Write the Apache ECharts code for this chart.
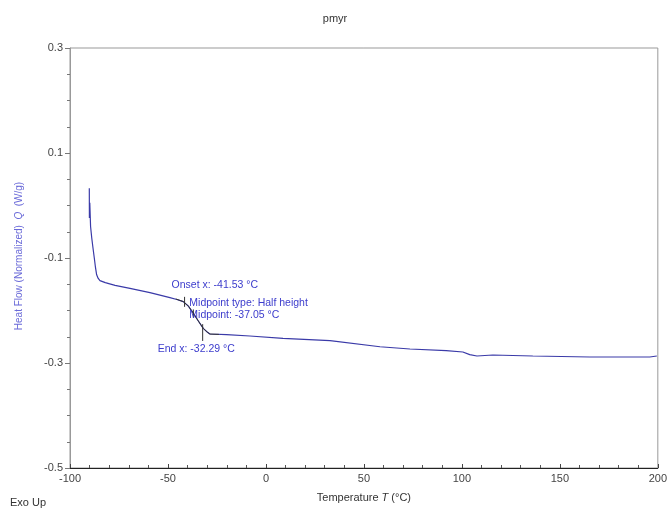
<!DOCTYPE html>
<html>
<head>
<meta charset="utf-8">
<script src="https://cdn.jsdelivr.net/npm/echarts@6/dist/echarts.min.js"></script>
<style>html,body{margin:0;padding:0;background:#fff}#c{width:670px;height:513px}</style>
</head>
<body>
<div id="c"></div>
<script>
// Temperature (°C)
var temps = [-90.15,-90.1,-89.9,-89.5,-88.9,-88.3,-87.6,-87.0,-86.4,-85.6,-84.7,-82,-77,-69.4,-59.2,-49.0,-45.5,-42.2,-39.5,-37.1,-34.5,-32.0,-30.0,-28.6,-20.1,-8.2,8.7,32.7,58.2,73.5,92,100.5,104,107.7,115.8,136.2,165.3,166,195.9,199.5];
// Heat flow (W/g)
var heat  = [0.033,-0.024,0.005,-0.040,-0.062,-0.080,-0.100,-0.118,-0.132,-0.139,-0.143,-0.147,-0.152,-0.1577,-0.166,-0.1756,-0.179,-0.183,-0.192,-0.205,-0.220,-0.234,-0.241,-0.2448,-0.246,-0.2486,-0.253,-0.2575,-0.269,-0.2733,-0.2765,-0.279,-0.284,-0.2867,-0.2848,-0.2867,-0.2886,-0.2886,-0.2886,-0.2867];
// analysis overlay (tangent region)
var analysisT = [-46,-42.2,-39.5,-37.1,-34.5,-32.0,-30.0,-28.6,-24];
var analysisQ = [-0.178,-0.183,-0.192,-0.205,-0.220,-0.234,-0.241,-0.2448,-0.2455];
var onset = -41.53, midpoint = -37.05, endX = -32.29;
var onsetQ = -0.183, midQ = -0.205, endQ = -0.234;
var yTicks = {min:-0.5, max:0.3, interval:0.2};
var xTicks = {min:-100, max:200, interval:50};

var main = temps.map(function(t,i){return [t, heat[i]];});
var analysis = analysisT.map(function(t,i){return [t, analysisQ[i]];});
var blue = '#3a3aa8';
var txt = '#3c3ccc';
var font = 'Liberation Sans, Arial, sans-serif';
function lbl(text, pos){
  return {formatter:text, position:pos, align:'left', verticalAlign:'middle'};
}

var chart = echarts.init(document.getElementById('c'));
chart.setOption({
  animation:false,
  title:{text:'pmyr', left:'center', top:8, textStyle:{fontSize:11, fontWeight:'normal', color:'#333', fontFamily:font}},
  grid:{left:70, right:12, top:48, bottom:45, show:true, borderColor:'#999', borderWidth:1},
  xAxis:{type:'value', min:xTicks.min, max:xTicks.max, interval:xTicks.interval,
    name:'Temperature {i|T} (°C)', nameLocation:'middle', nameGap:24,
    nameTextStyle:{fontSize:11, color:'#333', fontFamily:font, rich:{i:{fontStyle:'italic', fontSize:11, color:'#333', fontFamily:font}}},
    axisLine:{show:true, onZero:false, lineStyle:{color:'#222', width:1}},
    axisTick:{show:true, inside:true, length:4, lineStyle:{color:'#444'}},
    minorTick:{show:true, splitNumber:5, length:3, lineStyle:{color:'#555'}},
    axisLabel:{fontSize:11, color:'#444', fontFamily:font, margin:5},
    splitLine:{show:false}},
  yAxis:{type:'value', min:yTicks.min, max:yTicks.max, interval:yTicks.interval,
    axisLine:{show:true, onZero:false, lineStyle:{color:'#999', width:1}},
    axisTick:{show:true, length:5, lineStyle:{color:'#777'}},
    minorTick:{show:true, splitNumber:4, length:3, lineStyle:{color:'#777'}},
    axisLabel:{fontSize:11, color:'#444', fontFamily:font, margin:7, formatter:function(v){return v.toFixed(1);}},
    splitLine:{show:false}},
  graphic:[
    {type:'text', left:10, top:497, style:{text:'Exo Up', fontSize:11, fill:'#333', fontFamily:font}},
    {type:'text', x:14, y:256, rotation:Math.PI/2, style:{text:'Heat Flow (Normalized)  {i|Q}  (W/g)', fontSize:10, fill:'#6a6ad8', fontFamily:font, align:'center', verticalAlign:'top', rich:{i:{fontStyle:'italic', fontSize:10, fill:'#6a6ad8', fontFamily:font}}}}
  ],
  series:[
    {type:'line', data:main, showSymbol:false, lineStyle:{color:blue, width:1.2}, silent:true,
     markPoint:{symbol:'circle', symbolSize:0, silent:true,
       label:{show:true, color:txt, fontSize:10.5, fontFamily:font},
       data:[
         {coord:[onset, onsetQ], label:lbl('Onset x: -41.53 °C', [-13,-16])},
         {coord:[midpoint, midQ], label:lbl('Midpoint type: Half height', [-4,-10])},
         {coord:[midpoint, midQ], label:lbl('Midpoint: -37.05 °C', [-4,2])},
         {coord:[endX, endQ], label:lbl('End x: -32.29 °C', [-45,21])}
       ]}},
    {type:'line', data:analysis, showSymbol:false, lineStyle:{color:'#333', width:1}, silent:true},
    {type:'line', data:[[onset,-0.174],[onset,-0.193]], showSymbol:false, lineStyle:{color:'#333', width:1}, silent:true},
    {type:'line', data:[[midpoint,-0.198],[midpoint,-0.214]], showSymbol:false, lineStyle:{color:'#333', width:1}, silent:true},
    {type:'line', data:[[endX,-0.226],[endX,-0.258]], showSymbol:false, lineStyle:{color:'#333', width:1}, silent:true}
  ]
});
</script>
</body>
</html>
